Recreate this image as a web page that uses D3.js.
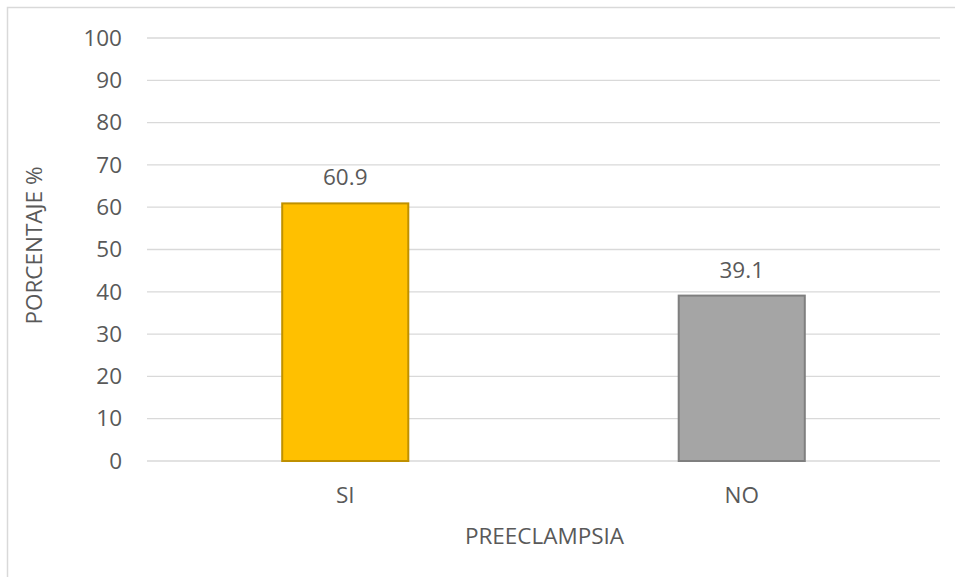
<!DOCTYPE html>
<html>
<head>
<meta charset="utf-8">
<script src="https://cdn.jsdelivr.net/npm/d3@7"></script>
<style>
  html, body { margin: 0; padding: 0; background: #fff; }
  svg text { font-family: "Open Sans", "Liberation Sans", sans-serif; fill: #595959; }
</style>
</head>
<body>
<svg id="chart" width="955" height="577"></svg>
<script>
// Preeclampsia: percentage of cases
const categories = ["SI", "NO"];
const values = [60.9, 39.1];
const fills = ["#FFC000", "#A5A5A5"];
const strokes = ["#BF9000", "#7F7F7F"];
const yTicks = [0, 10, 20, 30, 40, 50, 60, 70, 80, 90, 100];
const xTitle = "PREECLAMPSIA";
const yTitle = "PORCENTAJE %";

const svg = d3.select("#chart");
const W = 955, H = 577;
const m = { left: 147, right: 15, top: 38, bottom: 116 };
const FS = 22.5;

// outer chart frame
svg.append("rect")
  .attr("x", 7.5).attr("y", 7.5)
  .attr("width", W + 10).attr("height", H + 10)
  .attr("fill", "none").attr("stroke", "#D9D9D9").attr("stroke-width", 1.5);

const x = d3.scaleBand().domain(categories).range([m.left, W - m.right]).padding(0);
const y = d3.scaleLinear().domain([0, 100]).range([H - m.bottom, m.top]);

// gridlines
svg.append("g").selectAll("line").data(yTicks).join("line")
  .attr("x1", m.left).attr("x2", W - m.right)
  .attr("y1", d => y(d)).attr("y2", d => y(d))
  .attr("stroke", "#D9D9D9").attr("stroke-width", 1.3);

// y axis labels
const yAxis = d3.axisLeft(y).tickValues(yTicks).tickSize(0).tickPadding(25);
const gy = svg.append("g").attr("transform", `translate(${m.left},0)`).call(yAxis);
gy.select(".domain").remove();
gy.selectAll("text").attr("font-size", FS).style("fill", "#595959")
  .attr("font-family", "'Open Sans', sans-serif");

// x axis labels
const xAxis = d3.axisBottom(x).tickSize(0).tickPadding(26);
const gx = svg.append("g").attr("transform", `translate(0,${y(0)})`).call(xAxis);
gx.select(".domain").remove();
gx.selectAll("text").attr("font-size", FS).style("fill", "#595959")
  .attr("font-family", "'Open Sans', sans-serif");

// bars
const barW = x.bandwidth() * 0.318;
const data = categories.map((c, i) => ({ c, v: values[i], fill: fills[i], stroke: strokes[i] }));
svg.append("g").selectAll("rect").data(data).join("rect")
  .attr("x", d => x(d.c) + (x.bandwidth() - barW) / 2)
  .attr("y", d => y(d.v))
  .attr("width", barW)
  .attr("height", d => y(0) - y(d.v))
  .attr("fill", d => d.fill)
  .attr("stroke", d => d.stroke)
  .attr("stroke-width", 2);

// value labels
svg.append("g").selectAll("text").data(data).join("text")
  .attr("x", d => x(d.c) + x.bandwidth() / 2)
  .attr("y", d => y(d.v) - 18)
  .attr("text-anchor", "middle")
  .attr("font-size", FS)
  .text(d => d.v.toFixed(1));

// axis titles
svg.append("text")
  .attr("x", (m.left + W - m.right) / 2 + 1)
  .attr("y", 544)
  .attr("text-anchor", "middle")
  .attr("font-size", FS)
  .text(xTitle);

svg.append("text")
  .attr("transform", `translate(42,${(y(0) + y(100)) / 2 - 4}) rotate(-90)`)
  .attr("text-anchor", "middle")
  .attr("font-size", FS)
  .text(yTitle);
</script>
</body>
</html>
